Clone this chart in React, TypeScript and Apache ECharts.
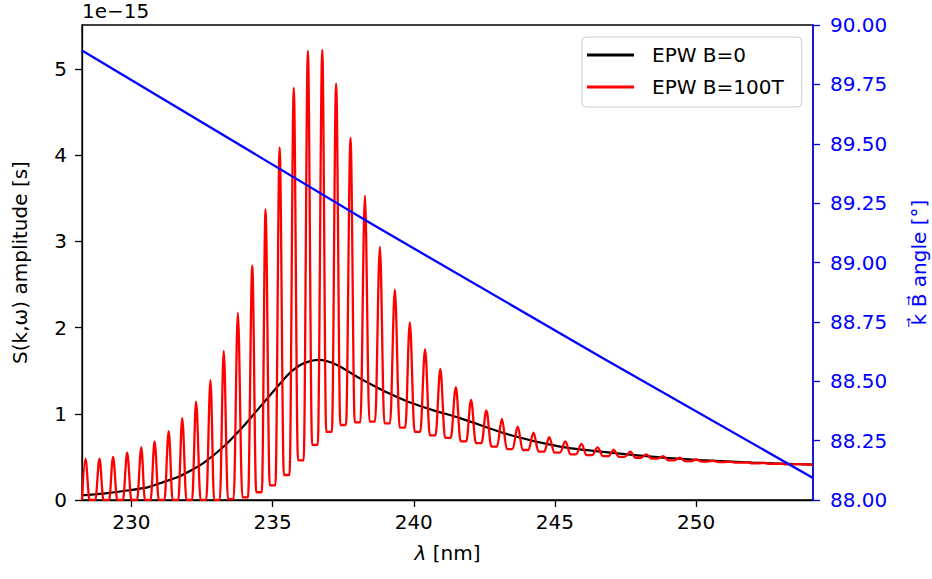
import React, { useEffect, useRef } from "react";
import * as echarts from "echarts";

// Wavelength range of the plot (nm)
const X_MIN = 228.25;
const X_MAX = 254.14;
const X_TICKS = [230, 235, 240, 245, 250];
// Left axis (units of 1e-15 s)
const Y_MIN = 0;
const Y_MAX = 5.51;
const Y_TICKS = [0, 1, 2, 3, 4, 5];
// Right axis (degrees)
const ANGLE_MIN = 88;
const ANGLE_MAX = 90;
const ANGLE_STEP = 0.25;

// EPW B=0 (black), amplitude in units of 1e-15 s
const blackLambda = [228.25, 229.0, 229.85, 230.6, 231.15, 231.6, 232.09, 232.56, 233.27, 233.95, 234.45, 234.66, 235.37, 235.7, 236.1, 236.64, 237.26, 237.99, 238.44, 239.1, 239.8, 240.7, 241.64, 243.41, 245.18, 246.95, 248.72, 250.14, 252.0, 254.14];
const blackValue = [0.055, 0.075, 0.11, 0.15, 0.21, 0.26, 0.34, 0.43, 0.62, 0.85, 1.04, 1.12, 1.39, 1.5, 1.585, 1.625, 1.57, 1.43, 1.35, 1.24, 1.14, 1.04, 0.95, 0.754, 0.62, 0.55, 0.495, 0.464, 0.435, 0.41];

// EPW B=100T (red): resonance peaks and the troughs between them
const redStart = [228.25, 0.0];
const peakLambda = [228.37, 228.87, 229.35, 229.85, 230.35, 230.82, 231.32, 231.80, 232.29, 232.80, 233.27, 233.77, 234.28, 234.75, 235.25, 235.75, 236.25, 236.76, 237.25, 237.76, 238.27, 238.80, 239.33, 239.86, 240.40, 240.94, 241.49, 242.03, 242.57, 243.12, 243.68, 244.24, 244.80, 245.37, 245.94, 246.51, 247.08, 247.67, 248.24, 248.83, 249.42, 250.01, 250.60, 251.20, 251.80, 252.40, 253.00, 253.60];
const peakValue = [0.48, 0.48, 0.50, 0.55, 0.61, 0.68, 0.80, 0.95, 1.14, 1.39, 1.73, 2.17, 2.72, 3.37, 4.09, 4.78, 5.21, 5.22, 4.83, 4.20, 3.53, 2.94, 2.44, 2.06, 1.75, 1.52, 1.31, 1.16, 1.04, 0.94, 0.85, 0.78, 0.73, 0.68, 0.65, 0.61, 0.58, 0.56, 0.53, 0.51, 0.49, 0.47, 0.455, 0.446, 0.437, 0.43, 0.422, 0.416];
const troughLambda = [228.62, 229.11, 229.60, 230.10, 230.58, 231.07, 231.56, 232.05, 232.55, 233.03, 233.52, 234.03, 234.52, 235.00, 235.50, 236.00, 236.50, 237.00, 237.50, 238.01, 238.53, 239.06, 239.60, 240.13, 240.67, 241.21, 241.76, 242.30, 242.85, 243.40, 243.96, 244.52, 245.08, 245.65, 246.22, 246.80, 247.37, 247.95, 248.53, 249.12, 249.71, 250.30, 250.90, 251.50, 252.10, 252.70, 253.30];
const troughValue = [0, 0, 0, 0, 0, 0, 0, 0, 0, 0, 0.01, 0.03, 0.09, 0.17, 0.29, 0.46, 0.64, 0.79, 0.87, 0.90, 0.91, 0.89, 0.84, 0.79, 0.75, 0.72, 0.68, 0.66, 0.62, 0.59, 0.58, 0.56, 0.55, 0.53, 0.52, 0.51, 0.50, 0.49, 0.48, 0.46, 0.45, 0.445, 0.44, 0.433, 0.426, 0.419, 0.413];
// half-width (nm) of the broad bottom of each trough, as seen in the picture
const troughHalfWidth = 0.1;
const redEnd = [254.14, 0.41];

// k-B angle (blue, right axis, degrees)
const blueLambda = [228.25, 238.47, 246.61, 254.14];
const blueAngle = [89.893, 89.165, 88.603, 88.093];

const FONT = "DejaVu Sans";

function buildRed() {
  const pts: number[][] = [redStart];
  for (let i = 0; i < peakLambda.length; i++) {
    pts.push([peakLambda[i], peakValue[i]]);
    if (i < troughLambda.length) {
      pts.push([troughLambda[i] - troughHalfWidth, troughValue[i]]);
      pts.push([troughLambda[i] + troughHalfWidth, troughValue[i]]);
    }
  }
  pts.push(redEnd);
  return pts;
}

export default function App() {
  const ref = useRef<HTMLDivElement>(null);
  useEffect(() => {
    if (!ref.current) return;
    const chart = echarts.init(ref.current, undefined, { renderer: "svg" });
    const blackData = blackLambda.map((x, i) => [x, blackValue[i]]);
    const blueData = blueLambda.map((x, i) => [x, blueAngle[i]]);
    const option: any = {
      animation: false,
      textStyle: { fontFamily: FONT },
      grid: {
        left: 82,
        right: 119,
        top: 25,
        bottom: 79,
        show: true,
        borderColor: "#000",
        borderWidth: 1.3,
        backgroundColor: "transparent",
        outerBoundsMode: "none",
      },
      legend: {
        data: ["EPW B=0", "EPW B=100T"],
        orient: "vertical",
        left: 582,
        top: 37,
        icon: "rect",
        itemWidth: 47,
        itemHeight: 3,
        itemGap: 12,
        padding: [8, 18, 10, 5],
        borderColor: "#cccccc",
        borderWidth: 1,
        borderRadius: 4,
        backgroundColor: "rgba(255,255,255,0.8)",
        textStyle: { fontSize: 20, color: "#000", fontFamily: FONT, padding: [0, 0, 0, 13] },
      },
      graphic: [
        {
          type: "text",
          left: 82,
          top: 1,
          style: { text: "1e\u221215", font: `20px "${FONT}"`, fill: "#000" },
        },
      ],
      xAxis: {
        type: "value",
        min: X_MIN,
        max: X_MAX,
        name: "{i|λ} [nm]",
        nameLocation: "middle",
        nameGap: 43,
        nameTextStyle: {
          fontSize: 20,
          color: "#000",
          fontFamily: FONT,
          rich: { i: { fontStyle: "italic", fontSize: 20, color: "#000", fontFamily: FONT } },
        },
        axisLine: { onZero: false, lineStyle: { color: "#000", width: 1.3 } },
        axisTick: { length: 7, customValues: X_TICKS, lineStyle: { color: "#000", width: 1.3 } },
        axisLabel: { customValues: X_TICKS, fontSize: 20, color: "#000", margin: 12, fontFamily: FONT },
        splitLine: { show: false },
      },
      yAxis: [
        {
          type: "value",
          min: Y_MIN,
          max: Y_MAX,
          position: "left",
          name: "S(k,ω) amplitude [s]",
          nameLocation: "middle",
          nameRotate: 90,
          nameGap: 52,
          nameTextStyle: { fontSize: 20, color: "#000", fontFamily: FONT },
          axisLine: { show: true, onZero: false, lineStyle: { color: "#000", width: 1.3 } },
          axisTick: { show: true, length: 7, customValues: Y_TICKS, lineStyle: { color: "#000", width: 1.3 } },
          axisLabel: { customValues: Y_TICKS, fontSize: 20, color: "#000", margin: 15, fontFamily: FONT },
          splitLine: { show: false },
        },
        {
          type: "value",
          min: ANGLE_MIN,
          max: ANGLE_MAX,
          interval: ANGLE_STEP,
          position: "right",
          name: "k\u20D7 B\u20D7 angle [°]",
          nameLocation: "middle",
          nameRotate: 90,
          nameGap: 96,
          nameTextStyle: { fontSize: 20, color: "#0000ff", fontFamily: FONT },
          axisLine: { show: true, onZero: false, lineStyle: { color: "#0000ff", width: 1.5 } },
          axisTick: { show: true, length: 7, lineStyle: { color: "#0000ff", width: 1.3 } },
          axisLabel: {
            fontSize: 20,
            color: "#0000ff",
            margin: 17,
            fontFamily: FONT,
            formatter: (v: number) => v.toFixed(2),
          },
          splitLine: { show: false },
        },
      ],
      series: [
        {
          type: "line",
          name: "EPW B=0",
          data: blackData,
          yAxisIndex: 0,
          symbol: "none",
          showSymbol: false,
          smooth: 0.3,
          color: "#000",
          lineStyle: { color: "#000", width: 2.2 },
          z: 2,
        },
        {
          type: "line",
          name: "EPW B=100T",
          data: buildRed(),
          yAxisIndex: 0,
          symbol: "none",
          showSymbol: false,
          smooth: 0.35,
          smoothMonotone: "x",
          color: "#ff0000",
          lineStyle: { color: "#ff0000", width: 2.3 },
          z: 3,
        },
        {
          type: "line",
          name: "angle",
          data: blueData,
          yAxisIndex: 1,
          symbol: "none",
          showSymbol: false,
          color: "#0000ff",
          lineStyle: { color: "#0000ff", width: 2.3 },
          z: 4,
        },
      ],
    };
    chart.setOption(option);
    return () => chart.dispose();
  }, []);
  return (
    <div
      ref={ref}
      style={{ position: "absolute", left: 0, top: 0, width: 932, height: 579, background: "#fff" }}
    />
  );
}
